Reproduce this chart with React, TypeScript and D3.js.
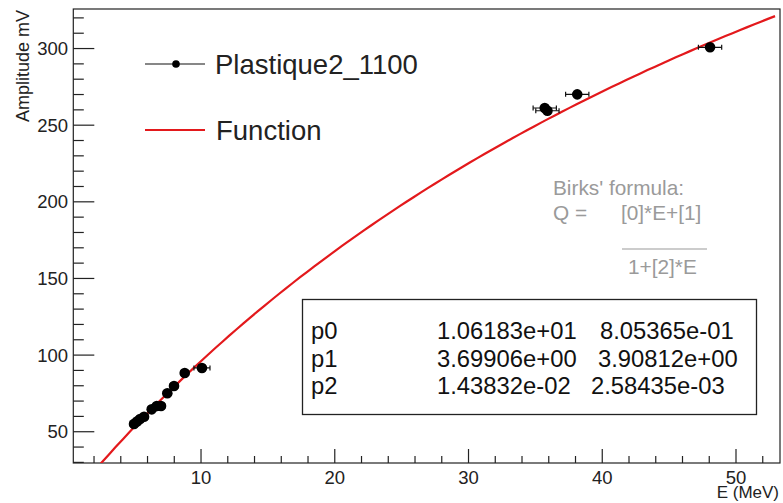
import React, { useEffect, useRef } from 'react';
import * as d3 from 'd3';

// measured points (E in MeV, amplitude in mV) with x errors
const energy = [4.99, 5.21, 5.44, 5.74, 6.31, 6.69, 7.01, 7.48, 7.98, 8.78, 10.07, 35.7, 35.9, 38.13, 48.06];
const amplitude = [55.1, 56.6, 58.3, 59.8, 64.6, 66.8, 66.8, 75.1, 79.8, 88.3, 91.6, 261.2, 259.4, 270.1, 300.8];
const energyErr = [0.3, 0.3, 0.3, 0.3, 0.3, 0.3, 0.3, 0.3, 0.3, 0.3, 0.6, 0.87, 0.87, 0.87, 0.87];

// fit results shown in the stat box
const paramNames = ['p0', 'p1', 'p2'];
const paramValues = ['1.06183e+01', '3.69906e+00', '1.43832e-02'];
const paramErrors = ['8.05365e-01', '3.90812e+00', '2.58435e-03'];

const xTicks = [10, 20, 30, 40, 50];
const yTicks = [50, 100, 150, 200, 250, 300];

const FONT = "'Liberation Sans', Arial, Helvetica, sans-serif";

const App = () => {
    const ref = useRef<SVGSVGElement>(null);

    useEffect(() => {
        const W = 783;
        const H = 503;
        const left = 73.3, right = 780, top = 9, bottom = 463;

        const svg = d3.select(ref.current);
        svg.selectAll('*').remove();
        svg.attr('width', W).attr('height', H);

        svg.append('rect').attr('width', W).attr('height', H).attr('fill', 'white');

        const x = d3.scaleLinear().domain([0.45, 53.29]).range([left, right]);
        const y = d3.scaleLinear().domain([29.6, 325.8]).range([bottom, top]);

        svg.append('clipPath').attr('id', 'frame-clip')
            .append('rect')
            .attr('x', left).attr('y', top)
            .attr('width', right - left).attr('height', bottom - top);

        // frame
        svg.append('rect')
            .attr('x', left).attr('y', top)
            .attr('width', right - left).attr('height', bottom - top)
            .attr('fill', 'none')
            .attr('stroke', '#222')
            .attr('stroke-width', 1.2);

        // x ticks
        const xMinor = d3.range(2, 54, 2);
        svg.append('g').selectAll('line')
            .data(xMinor)
            .enter()
            .append('line')
            .attr('x1', d => x(d)).attr('x2', d => x(d))
            .attr('y1', bottom)
            .attr('y2', d => bottom - (d % 10 === 0 ? 14 : 7))
            .attr('stroke', '#222')
            .attr('stroke-width', 1.2);

        svg.append('g').selectAll('text')
            .data(xTicks)
            .enter()
            .append('text')
            .attr('x', d => x(d))
            .attr('y', 484)
            .attr('text-anchor', 'middle')
            .attr('font-family', FONT)
            .attr('font-size', 18.5)
            .attr('fill', '#222')
            .text(d => d);

        // y ticks
        const yMinor = d3.range(30, 330, 10);
        svg.append('g').selectAll('line')
            .data(yMinor)
            .enter()
            .append('line')
            .attr('y1', d => y(d)).attr('y2', d => y(d))
            .attr('x1', left)
            .attr('x2', d => left + (d % 50 === 0 ? 21 : 10.5))
            .attr('stroke', '#222')
            .attr('stroke-width', 1.2);

        svg.append('g').selectAll('text')
            .data(yTicks)
            .enter()
            .append('text')
            .attr('x', 68)
            .attr('y', d => y(d) + 6.6)
            .attr('text-anchor', 'end')
            .attr('font-family', FONT)
            .attr('font-size', 18.5)
            .attr('fill', '#222')
            .text(d => d);

        // axis titles
        svg.append('text')
            .attr('transform', 'translate(29,10) rotate(-90)')
            .attr('text-anchor', 'end')
            .attr('font-family', FONT)
            .attr('font-size', 18)
            .attr('fill', '#222')
            .text('Amplitude mV');

        svg.append('text')
            .attr('x', 779)
            .attr('y', 498)
            .attr('text-anchor', 'end')
            .attr('font-family', FONT)
            .attr('font-size', 17)
            .attr('fill', '#222')
            .text('E (MeV)');

        // Birks' fit function
        const p = paramValues.map(v => +v);
        const birks = (e: number) => (p[0] * e + p[1]) / (1 + p[2] * e);
        const samples = d3.range(0.45, 53.35, 0.53);
        const line = d3.line<number>().x(d => x(d)).y(d => y(birks(d)));

        const plot = svg.append('g').attr('clip-path', 'url(#frame-clip)');

        plot.append('path')
            .datum(samples)
            .attr('d', line)
            .attr('fill', 'none')
            .attr('stroke', '#e3191c')
            .attr('stroke-width', 2.2);

        // error bars + markers
        const pts = energy.map((e, i) => ({ e, a: amplitude[i], err: energyErr[i] }));
        const bars = plot.append('g').attr('stroke', '#111').attr('stroke-width', 1.2);
        pts.forEach(d => {
            bars.append('line')
                .attr('x1', x(d.e - d.err)).attr('x2', x(d.e + d.err))
                .attr('y1', y(d.a)).attr('y2', y(d.a));
            [d.e - d.err, d.e + d.err].forEach(v => {
                bars.append('line')
                    .attr('x1', x(v)).attr('x2', x(v))
                    .attr('y1', y(d.a) - 2.5).attr('y2', y(d.a) + 2.5);
            });
        });

        plot.append('g').selectAll('circle')
            .data(pts)
            .enter()
            .append('circle')
            .attr('cx', d => x(d.e))
            .attr('cy', d => y(d.a))
            .attr('r', 5.3)
            .attr('fill', '#000');

        // legend
        const legend = svg.append('g');
        legend.append('line')
            .attr('x1', 145).attr('x2', 205)
            .attr('y1', 64).attr('y2', 64)
            .attr('stroke', '#111').attr('stroke-width', 1.2);
        legend.append('circle').attr('cx', 176).attr('cy', 64).attr('r', 3.8).attr('fill', '#000');
        legend.append('text')
            .attr('x', 215).attr('y', 74)
            .attr('font-family', FONT).attr('font-size', 27.5).attr('fill', '#222')
            .text('Plastique2_1100');
        legend.append('line')
            .attr('x1', 145).attr('x2', 205)
            .attr('y1', 130).attr('y2', 130)
            .attr('stroke', '#e3191c').attr('stroke-width', 2.2);
        legend.append('text')
            .attr('x', 216).attr('y', 140)
            .attr('font-family', FONT).attr('font-size', 27.5).attr('fill', '#222')
            .text('Function');

        // Birks' formula annotation
        const formula = svg.append('g')
            .attr('font-family', FONT)
            .attr('font-size', 20.8)
            .attr('fill', '#9a9a9a');
        formula.append('text').attr('x', 553).attr('y', 195).text("Birks' formula:");
        formula.append('text').attr('x', 553).attr('y', 220).text('Q =');
        formula.append('text').attr('x', 621).attr('y', 220).text('[0]*E+[1]');
        formula.append('line')
            .attr('x1', 622).attr('x2', 707)
            .attr('y1', 249).attr('y2', 249)
            .attr('stroke', '#9a9a9a').attr('stroke-width', 1.2);
        formula.append('text').attr('x', 628).attr('y', 274).text('1+[2]*E');

        // stat box
        const box = svg.append('g');
        box.append('rect')
            .attr('x', 302.5).attr('y', 299.5)
            .attr('width', 454).attr('height', 115)
            .attr('fill', 'white')
            .attr('stroke', '#222')
            .attr('stroke-width', 1.3);
        const rows = box.append('g')
            .attr('font-family', FONT)
            .attr('font-size', 23.8)
            .attr('fill', '#111');
        const errX = [600, 598, 591];
        paramNames.forEach((name, i) => {
            const yy = 339 + i * 27.5;
            rows.append('text').attr('x', 311).attr('y', yy).text(name);
            rows.append('text').attr('x', 437).attr('y', yy).text(paramValues[i]);
            rows.append('text').attr('x', errX[i]).attr('y', yy).text(paramErrors[i]);
        });
    }, []);

    return (
        <div style={{ position: 'fixed', left: 0, top: 0 }}>
            <svg ref={ref} style={{ display: 'block' }}></svg>
        </div>
    );
};

export default App;
